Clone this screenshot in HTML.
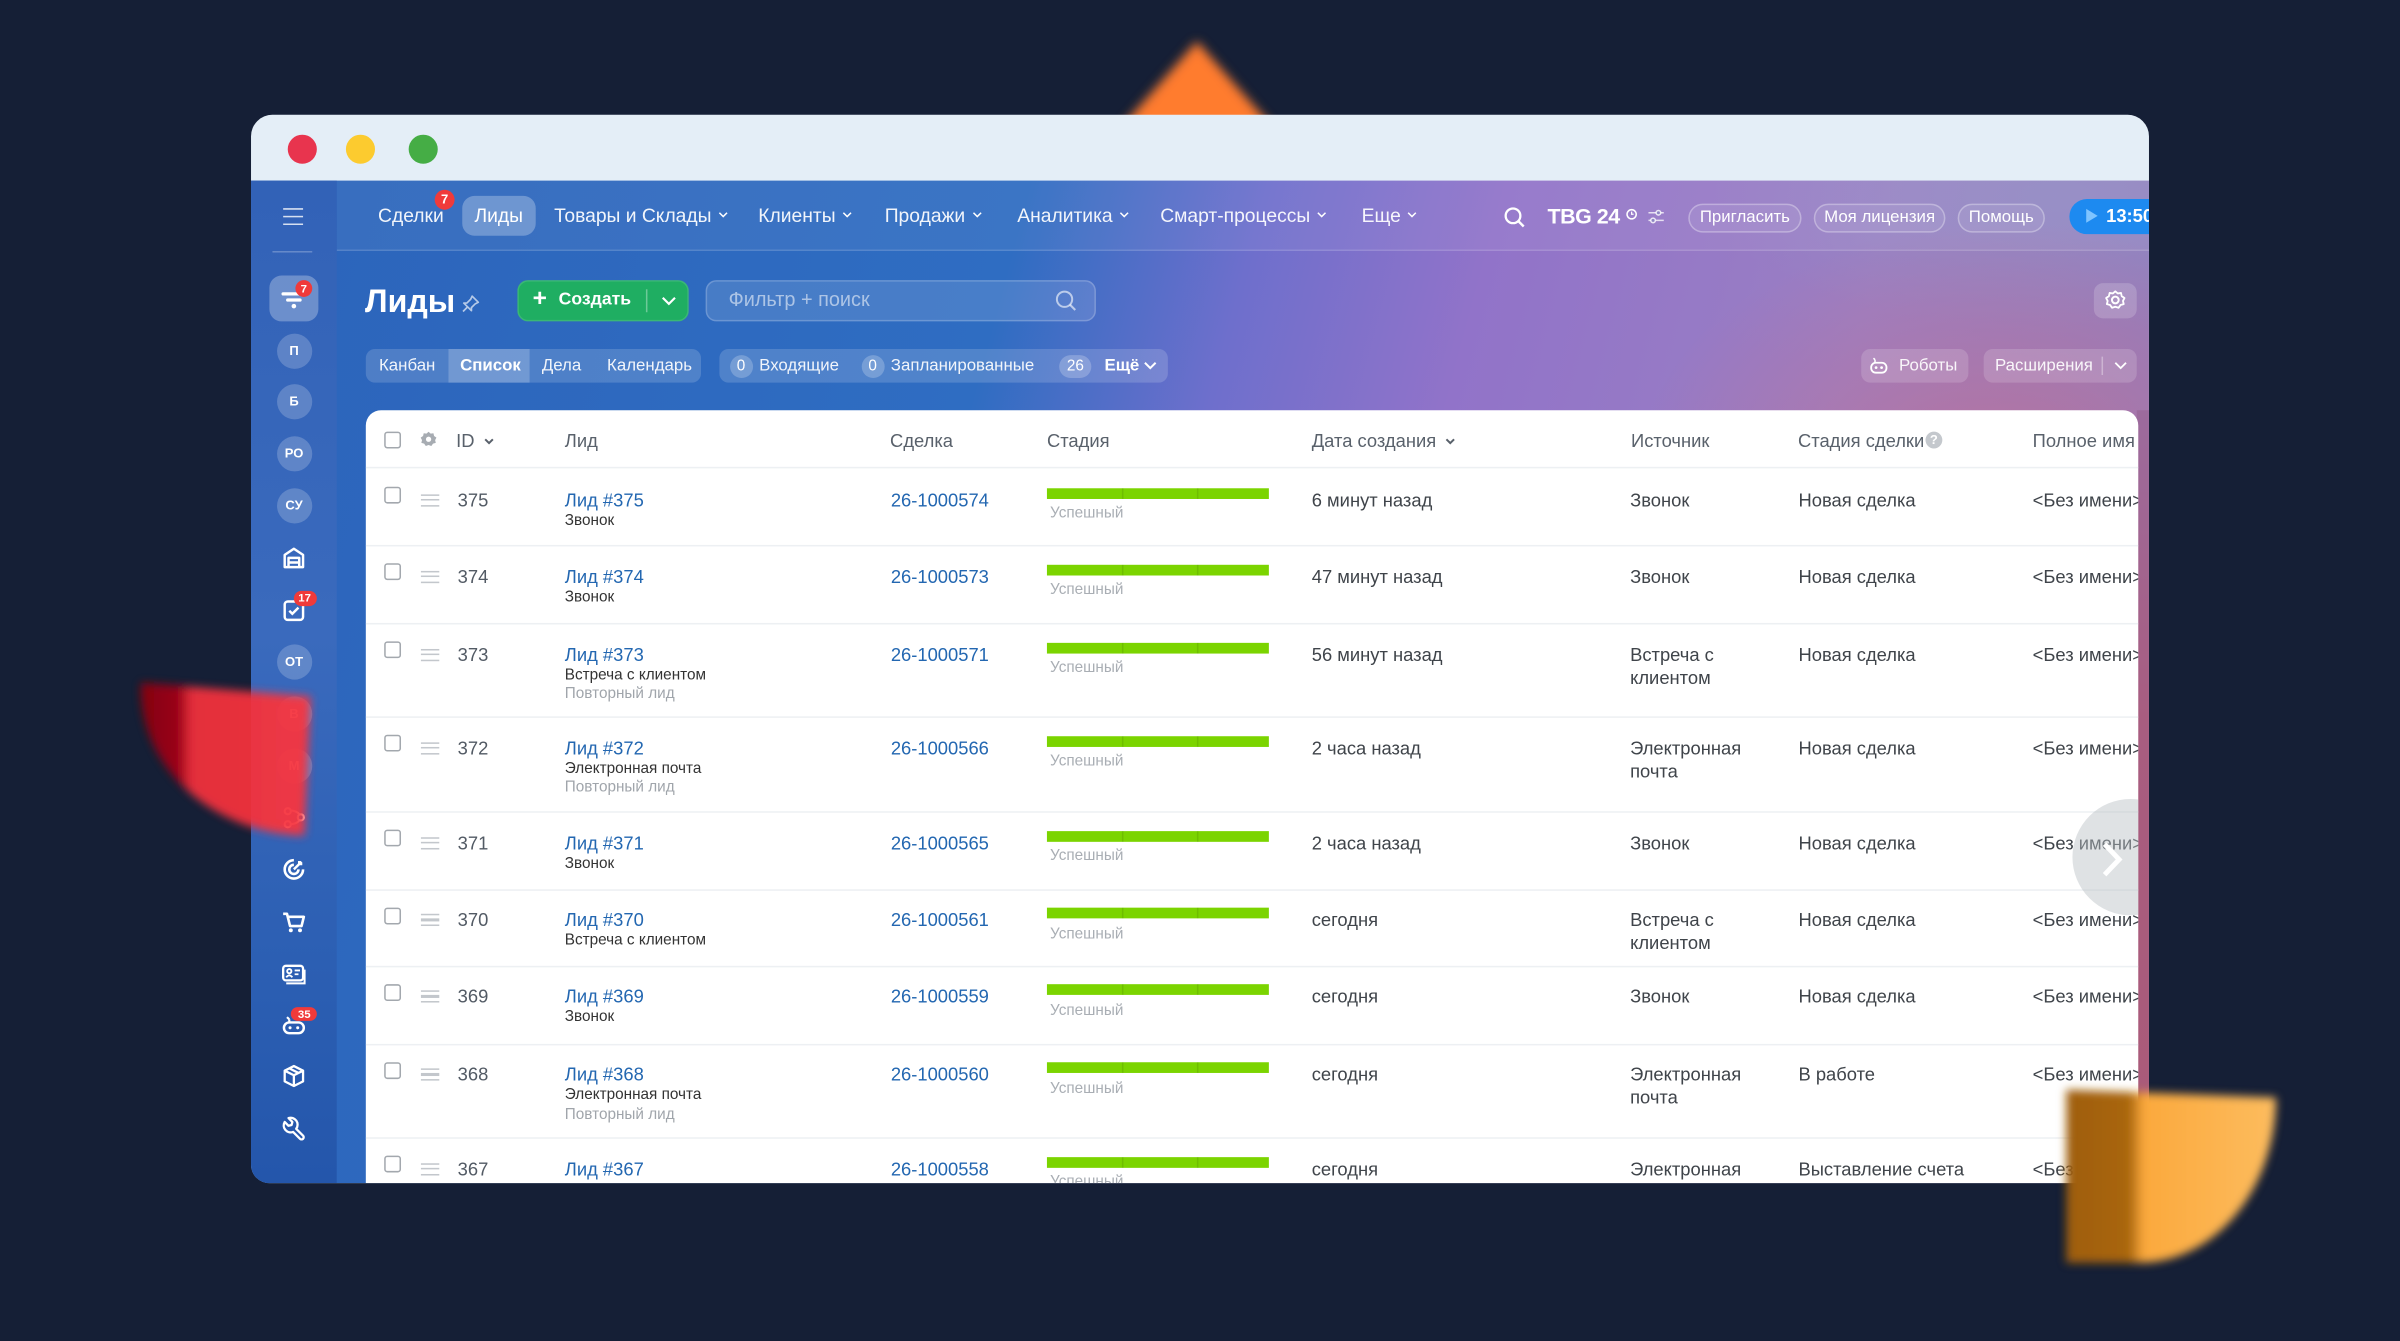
<!DOCTYPE html>
<html><head><meta charset="utf-8"><title>Лиды</title>
<style>
*{box-sizing:border-box}
html,body{margin:0;padding:0;width:2400px;height:1340px;overflow:hidden;background:#151f36}
#s{position:absolute;left:0;top:0;width:1568px;height:876px;transform:scale(1.530612);transform-origin:0 0;font-family:"Liberation Sans","DejaVu Sans",sans-serif;color:#fff}
.a{position:absolute;white-space:nowrap}
#win{position:absolute;left:164px;top:75px;width:1240px;height:698px;border-radius:14px 14px 0 12px;overflow:hidden;background:#e4eef7}
.dot{position:absolute;top:12.5px;width:19px;height:19px;border-radius:50%}
#app{position:absolute;left:0;top:43px;width:1240px;height:655px;
 background:
 radial-gradient(ellipse 330px 240px at 1140px 200px, rgba(210,105,130,.55), rgba(210,105,130,0) 72%),
 radial-gradient(ellipse 300px 120px at 1180px 10px, rgba(140,150,200,.45), rgba(140,150,200,0) 75%),
 linear-gradient(105deg,#2c64bb 0%,#2f6dc2 36%,#6e6fcc 47%,#9173c9 58%,#9a7fc3 76%,#8f7cb8 100%)}
.nv{position:absolute;top:58px;font-size:12.6px;line-height:16px;color:rgba(255,255,255,.93);white-space:nowrap}
.chev{display:inline-block;margin-left:4px;vertical-align:2px}
.pill{position:absolute;top:58px;height:19px;border:1px solid rgba(255,255,255,.3);background:rgba(255,255,255,.08);border-radius:10px;font-size:11px;line-height:17px;text-align:center;color:#fff;white-space:nowrap}
.sc{position:absolute;left:16.6px;width:23px;height:23px;border-radius:50%;background:rgba(255,255,255,.2);font-size:8.5px;font-weight:bold;line-height:23px;text-align:center;color:#fff}
.si{position:absolute;left:19px;width:18px;height:18px}
.bdg{position:absolute;background:#f03a3a;color:#fff;font-weight:bold;border-radius:7px;text-align:center;font-size:7.5px}
.grp{position:absolute;top:152.5px;height:22.5px;border-radius:6px;background:rgba(255,255,255,.16)}
.gt{position:absolute;top:0;font-size:11px;line-height:22.5px;color:rgba(255,255,255,.92);white-space:nowrap}
.cnt{position:absolute;top:4px;height:15px;border-radius:8px;background:rgba(255,255,255,.22);font-size:10px;line-height:15px;text-align:center;color:#fff}
#card{position:absolute;left:75px;top:193.3px;width:1157.5px;height:505px;background:#fff;border-radius:10px 10px 0 0;overflow:hidden}
.h{position:absolute;top:12.7px;font-size:12px;line-height:14px;color:#59616b;white-space:nowrap}
.sep{position:absolute;left:0;width:100%;height:1px;background:#edf0f3}
.r{position:absolute;left:0;width:100%;height:0}
.r>div{position:absolute;white-space:nowrap;font-size:12px;line-height:14px;color:#3f444a}
.r .cb{left:12px;top:-8.5px;width:11px;height:11px;border:1.3px solid #a3a8ae;border-radius:2px;background:#fff}
.r .hd{left:36px;top:-4px;width:12px;height:8px;border-top:1.5px solid #c3c7cc;border-bottom:1.5px solid #c3c7cc}
.r .hd:after{content:"";position:absolute;left:0;top:1.75px;width:12px;height:1.5px;background:#c3c7cc}
.r .id{left:60px;top:-7px;color:#525a64}
.r .ln{left:130px;top:-7px;color:#2367b1}
.r .s1{left:130px;top:8px;font-size:10px;line-height:12px;color:#333}
.r .s2{left:130px;top:20.5px;font-size:10px;line-height:12px;color:#a0a5ab}
.r .dl{left:343px;top:-7px;color:#2367b1}
.r .bar{left:445px;top:-8px;width:145px;height:7px;background:#7bd400}
.r .bar:before{content:"";position:absolute;left:48.5px;top:0;width:1px;height:7px;background:rgba(0,0,0,.1)}
.r .bar:after{content:"";position:absolute;left:97.5px;top:0;width:1px;height:7px;background:rgba(0,0,0,.1)}
.r .ok{left:447px;top:3.5px;font-size:10px;line-height:12px;color:#a9aeb4}
.r .dt{left:618px;top:-7px}
.r .src{left:826px;top:-7px;line-height:15px}
.r .st{left:936px;top:-7px}
.r .nm{left:1089px;top:-7px}
</style></head>
<body>
<div id="s">
<svg class="a" style="left:0;top:0" width="1568" height="876">
 <defs><filter id="bt" x="-30%" y="-30%" width="160%" height="160%"><feGaussianBlur stdDeviation="3.5"/></filter></defs>
 <polygon points="782,27 722,95 842,95" fill="#ff7b2d" filter="url(#bt)"/>
</svg>

<div id="win">
 <div class="dot" style="left:23.5px;background:#e8344e"></div>
 <div class="dot" style="left:61.5px;background:#fccb2f"></div>
 <div class="dot" style="left:102.5px;background:#45ad45"></div>

 <div id="app"></div>
 <div class="a" style="left:56px;top:43px;width:1184px;height:46px;background:rgba(255,255,255,.06);border-bottom:1px solid rgba(255,255,255,.14)"></div>
 <div class="a" style="left:1232px;top:193px;width:8px;height:505px;background:linear-gradient(180deg,#9c6b9d,#a85d80 40%,#aa5a78)"></div>

 <!-- sidebar -->
 <div class="a" style="left:0;top:43px;width:56px;height:655px;background:linear-gradient(180deg,#3262b7 0%,#3a6abd 45%,#2c5fb3 78%,#2456ab 100%)"></div>
 <div class="a" style="left:21px;top:61px;width:13px;height:10.5px;border-top:1.5px solid rgba(255,255,255,.8);border-bottom:1.5px solid rgba(255,255,255,.8)"></div>
 <div class="a" style="left:21px;top:65.5px;width:13px;height:1.5px;background:rgba(255,255,255,.8)"></div>
 <div class="a" style="left:14px;top:89px;width:26px;height:1px;background:rgba(255,255,255,.25)"></div>

 <div class="a" style="left:12.4px;top:104.7px;width:32px;height:30.5px;border-radius:8px;background:rgba(255,255,255,.28)"></div>
 <svg class="a" style="left:19px;top:111px" width="18" height="18" viewBox="0 0 18 18"><path d="M2 6H16M5 10H13" stroke="#fff" stroke-width="2.2" stroke-linecap="round"/><circle cx="9" cy="14" r="1.5" fill="#fff"/></svg>
 <div class="bdg" style="left:29px;top:107.5px;width:11px;height:11px;line-height:11px">7</div>

 <div class="sc" style="top:142.7px">П</div>
 <div class="sc" style="top:175.5px">Б</div>
 <div class="sc" style="top:210.3px">РО</div>
 <div class="sc" style="top:244px">СУ</div>
 <svg class="si" style="top:280px" viewBox="0 0 18 18"><path d="M3 7.5L9 3.5L15 7.5V15.5H3Z M5.5 15.5V9.5H12.5V15.5 M5.5 12.5H12.5" stroke="#fff" stroke-width="1.6" fill="none" stroke-linejoin="round"/></svg>
 <svg class="si" style="top:314px" viewBox="0 0 18 18"><rect x="3" y="4" width="12" height="12" rx="2" stroke="#fff" stroke-width="1.6" fill="none"/><path d="M6 10l2 2 4-4" stroke="#fff" stroke-width="1.6" fill="none"/></svg>
 <div class="bdg" style="left:27.5px;top:311.3px;width:15px;height:10.2px;line-height:10.2px">17</div>
 <div class="sc" style="top:346.3px">ОТ</div>
 <div class="sc" style="top:380.2px">В</div>
 <div class="sc" style="top:413.8px">М</div>
 <svg class="si" style="top:450px" viewBox="0 0 18 18"><circle cx="5" cy="5" r="2" stroke="#fff" stroke-width="1.4" fill="none"/><circle cx="13.5" cy="9" r="2" stroke="#fff" stroke-width="1.4" fill="none"/><circle cx="5" cy="13.5" r="2" stroke="#fff" stroke-width="1.4" fill="none"/><path d="M7.5 4.5Q11 5 12.5 7M7.5 13.5Q11 13 12.5 11" stroke="#fff" stroke-width="1.4" fill="none"/></svg>
 <svg class="si" style="top:483.5px" viewBox="0 0 18 18"><path d="M15 9A6 6 0 1 1 9 3" stroke="#fff" stroke-width="1.7" fill="none"/><path d="M12 9A3 3 0 1 1 9 6" stroke="#fff" stroke-width="1.7" fill="none"/><path d="M9 9L14 4M12.5 3.5V5.5H14.5" stroke="#fff" stroke-width="1.6" fill="none"/></svg>
 <svg class="si" style="top:518px" viewBox="0 0 18 18"><path d="M2 4H4.5L6.5 12H14L15.5 6H5" stroke="#fff" stroke-width="1.7" fill="none" stroke-linejoin="round"/><circle cx="7" cy="14.8" r="1.3" fill="#fff"/><circle cx="13" cy="14.8" r="1.3" fill="#fff"/></svg>
 <svg class="si" style="top:551.8px" viewBox="0 0 18 18"><rect x="2" y="4" width="13" height="9.5" rx="1.8" stroke="#fff" stroke-width="1.5" fill="none"/><path d="M4 15.5H16V6.5" stroke="#fff" stroke-width="1.3" fill="none"/><circle cx="6" cy="7.5" r="1.4" stroke="#fff" stroke-width="1.2" fill="none"/><path d="M4 11.5Q6 9 8 11.5M9.5 7H13M9.5 9.5H12" stroke="#fff" stroke-width="1.2" fill="none"/></svg>
 <svg class="si" style="top:585px" viewBox="0 0 18 18"><rect x="2.5" y="8" width="13" height="7" rx="3.5" stroke="#fff" stroke-width="1.6" fill="none"/><path d="M6 8V6M4.5 4.5L6 6" stroke="#fff" stroke-width="1.4" fill="none"/><circle cx="6.5" cy="11.5" r="1" fill="#fff"/><circle cx="11.5" cy="11.5" r="1" fill="#fff"/></svg>
 <div class="bdg" style="left:26.4px;top:582.7px;width:16.8px;height:9.6px;line-height:9.6px">35</div>
 <svg class="si" style="top:619px" viewBox="0 0 18 18"><path d="M9 2.5L15 5.5V12.5L9 15.5L3 12.5V5.5Z M3 5.5L9 8.5L15 5.5 M9 8.5V15.5 M6 4L12 7" stroke="#fff" stroke-width="1.5" fill="none" stroke-linejoin="round"/></svg>
 <svg class="si" style="top:653px" viewBox="0 0 18 18"><path d="M10.5 9.5L15 14A1.4 1.4 0 0 1 13 16L8.5 11.5A4.5 4.5 0 0 1 3 5L5.5 7.5L7.5 7L8 5L5.5 2.5A4.5 4.5 0 0 1 10.5 9.5Z" stroke="#fff" stroke-width="1.5" fill="none" stroke-linejoin="round"/></svg>

 <!-- top nav -->
 <div class="nv" style="left:83px">Сделки</div>
 <div class="bdg" style="left:120px;top:48.5px;width:13px;height:13px;line-height:13px;border-radius:50%;font-size:8.5px">7</div>
 <div class="a" style="left:138px;top:53px;width:48px;height:26px;border-radius:8px;background:rgba(255,255,255,.27)"></div>
 <div class="nv" style="left:146px;color:#fff">Лиды</div>
 <div class="nv" style="left:198px">Товары и Склады<svg class="chev" width="7" height="5" viewBox="0 0 7 5"><path d="M1 1l2.5 2.5L6 1" stroke="#fff" fill="none" stroke-width="1"/></svg></div>
 <div class="nv" style="left:331.4px">Клиенты<svg class="chev" width="7" height="5" viewBox="0 0 7 5"><path d="M1 1l2.5 2.5L6 1" stroke="#fff" fill="none" stroke-width="1"/></svg></div>
 <div class="nv" style="left:414px">Продажи<svg class="chev" width="7" height="5" viewBox="0 0 7 5"><path d="M1 1l2.5 2.5L6 1" stroke="#fff" fill="none" stroke-width="1"/></svg></div>
 <div class="nv" style="left:500.6px">Аналитика<svg class="chev" width="7" height="5" viewBox="0 0 7 5"><path d="M1 1l2.5 2.5L6 1" stroke="#fff" fill="none" stroke-width="1"/></svg></div>
 <div class="nv" style="left:594px">Смарт-процессы<svg class="chev" width="7" height="5" viewBox="0 0 7 5"><path d="M1 1l2.5 2.5L6 1" stroke="#fff" fill="none" stroke-width="1"/></svg></div>
 <div class="nv" style="left:725.6px">Еще<svg class="chev" width="7" height="5" viewBox="0 0 7 5"><path d="M1 1l2.5 2.5L6 1" stroke="#fff" fill="none" stroke-width="1"/></svg></div>

 <svg class="a" style="left:818px;top:60px" width="16" height="14" viewBox="0 0 16 14"><circle cx="6.5" cy="6" r="4.8" stroke="#fff" stroke-width="1.5" fill="none"/><path d="M10 9.5L13.5 13" stroke="#fff" stroke-width="1.6"/></svg>
 <div class="a" style="left:847px;top:57.5px;font-size:14px;line-height:17px;font-weight:bold;letter-spacing:-.3px">TBG 24</div>
 <svg class="a" style="left:897.5px;top:61px" width="8" height="8" viewBox="0 0 8 8"><circle cx="4" cy="4" r="3" stroke="#fff" stroke-width="1" fill="none"/><path d="M4 2.3V4H5.3" stroke="#fff" stroke-width=".8" fill="none"/></svg>
 <svg class="a" style="left:912px;top:61px" width="12" height="11" viewBox="0 0 12 11"><path d="M1 3H11M1 8H11" stroke="rgba(255,255,255,.75)" stroke-width="1"/><circle cx="7.5" cy="3" r="1.5" fill="#8d86c4" stroke="rgba(255,255,255,.8)" stroke-width="1"/><circle cx="4" cy="8" r="1.5" fill="#8d86c4" stroke="rgba(255,255,255,.8)" stroke-width="1"/></svg>
 <div class="pill" style="left:939px;width:74px">Пригласить</div>
 <div class="pill" style="left:1021px;width:86px">Моя лицензия</div>
 <div class="pill" style="left:1115px;width:57px">Помощь</div>
 <div class="a" style="left:1188px;top:54.5px;width:82px;height:23px;border-radius:12px;background:#1d8af0"></div>
 <svg class="a" style="left:1198px;top:61px" width="9" height="10" viewBox="0 0 9 10"><path d="M1 0.5L8.5 5L1 9.5Z" fill="#7fc4ff"/></svg>
 <div class="a" style="left:1212px;top:58px;font-size:12px;line-height:16px;font-weight:bold">13:50</div>

 <!-- page header -->
 <div class="a" style="left:74.5px;top:109.5px;font-size:21px;line-height:25px;font-weight:bold">Лиды</div>
 <svg class="a" style="left:137px;top:117px" width="13" height="13" viewBox="0 0 13 13"><path d="M7.5 1.5L11.5 5.5L9.5 6.5L7 9V11L2 6H4L6.5 3.5Z M4.5 8.5L1.5 11.5" stroke="rgba(255,255,255,.65)" stroke-width="1.1" fill="none" stroke-linejoin="round"/></svg>
 <div class="a" style="left:173.5px;top:107.5px;width:112.5px;height:27px;border-radius:7px;background:#1fae62;border:1px solid rgba(255,255,255,.12)"></div>
 <div class="a" style="left:184px;top:112px;font-size:16px;line-height:18px;font-weight:bold">+</div>
 <div class="a" style="left:201px;top:114px;font-size:11.5px;line-height:14px;font-weight:bold">Создать</div>
 <div class="a" style="left:257.5px;top:113.5px;width:1px;height:15px;background:rgba(255,255,255,.35)"></div>
 <svg class="a" style="left:267.5px;top:118px" width="10" height="7" viewBox="0 0 10 7"><path d="M1 1.5l4 4 4-4" stroke="#fff" fill="none" stroke-width="1.4"/></svg>
 <div class="a" style="left:296.7px;top:107.5px;width:255px;height:27px;border-radius:7px;background:rgba(255,255,255,.12);border:1px solid rgba(255,255,255,.2)"></div>
 <div class="a" style="left:312px;top:113px;font-size:13px;line-height:16px;color:rgba(255,255,255,.55)">Фильтр + поиск</div>
 <svg class="a" style="left:525px;top:113.5px" width="15" height="15" viewBox="0 0 15 15"><circle cx="6.5" cy="6.5" r="5" stroke="rgba(255,255,255,.6)" stroke-width="1.3" fill="none"/><path d="M10 10L13.5 13.5" stroke="rgba(255,255,255,.6)" stroke-width="1.4"/></svg>
 <div class="a" style="left:1203.5px;top:109.5px;width:28.5px;height:23px;border-radius:6px;background:rgba(255,255,255,.18)"></div>
 <svg class="a" style="left:1211px;top:114px" width="14" height="14" viewBox="0 0 14 14"><circle cx="7" cy="7" r="2.2" stroke="#fff" stroke-width="1.3" fill="none"/><path d="M7 1.3L8.6 2.7L10.7 2.4L11.2 4.5L13 5.7L12 7.6L12.5 9.7L10.4 10.3L9.1 12.1L7 11.4L4.9 12.1L3.6 10.3L1.5 9.7L2 7.6L1 5.7L2.8 4.5L3.3 2.4L5.4 2.7Z" stroke="#fff" stroke-width="1.2" fill="none" stroke-linejoin="round"/></svg>

 <!-- view row -->
 <div class="grp" style="left:75px;width:219px">
  <div class="a" style="left:53.5px;top:0;width:53px;height:22.5px;background:rgba(255,255,255,.2)"></div>
  <div class="gt" style="left:8.6px">Канбан</div>
  <div class="gt" style="left:61.6px;font-weight:bold;color:#fff">Список</div>
  <div class="gt" style="left:115px">Дела</div>
  <div class="gt" style="left:157.6px">Календарь</div>
 </div>
 <div class="grp" style="left:305.6px;width:293.7px">
  <div class="cnt" style="left:7px;width:15px">0</div>
  <div class="gt" style="left:26.4px">Входящие</div>
  <div class="cnt" style="left:93px;width:15px">0</div>
  <div class="gt" style="left:112.4px">Запланированные</div>
  <div class="cnt" style="left:222.5px;width:21px">26</div>
  <div class="gt" style="left:252px;font-weight:bold;color:#fff">Ещё</div>
  <svg class="a" style="left:277.5px;top:8px" width="9" height="6" viewBox="0 0 9 6"><path d="M1 1l3.5 3.5L8 1" stroke="#fff" fill="none" stroke-width="1.3"/></svg>
 </div>
 <div class="grp" style="left:1052px;width:69.5px">
  <svg class="a" style="left:4.5px;top:5.5px" width="13" height="12" viewBox="0 0 13 12"><rect x="1.5" y="4" width="10" height="6.5" rx="3" stroke="#fff" stroke-width="1.2" fill="none"/><path d="M4 4V2M3 1L4 2" stroke="#fff" stroke-width="1" fill="none"/><circle cx="4.7" cy="7.2" r=".9" fill="#fff"/><circle cx="8.3" cy="7.2" r=".9" fill="#fff"/></svg>
  <div class="gt" style="left:24.7px">Роботы</div>
 </div>
 <div class="grp" style="left:1131.8px;width:100px">
  <div class="gt" style="left:7.6px">Расширения</div>
  <div class="a" style="left:77px;top:5px;width:1px;height:12.5px;background:rgba(255,255,255,.35)"></div>
  <svg class="a" style="left:85px;top:8px" width="9" height="6" viewBox="0 0 9 6"><path d="M1 1l3.5 3.5L8 1" stroke="#fff" fill="none" stroke-width="1.2"/></svg>
 </div>

 <!-- card -->
 <div id="card">
  <div class="a" style="left:12.3px;top:14px;width:11px;height:11px;border:1.3px solid #a3a8ae;border-radius:2px"></div>
  <svg class="a" style="left:35px;top:13px" width="12" height="12" viewBox="0 0 14 14"><path d="M7 1.3L8.6 2.7L10.7 2.4L11.2 4.5L13 5.7L12 7.6L12.5 9.7L10.4 10.3L9.1 12.1L7 11.4L4.9 12.1L3.6 10.3L1.5 9.7L2 7.6L1 5.7L2.8 4.5L3.3 2.4L5.4 2.7Z" fill="#a7acb2"/><circle cx="7" cy="7" r="2" fill="#fff"/></svg>
  <div class="h" style="left:59px">ID</div>
  <svg class="a" style="left:76.5px;top:18px" width="7" height="5" viewBox="0 0 7 5"><path d="M1 1l2.5 2.5L6 1" stroke="#59616b" fill="none" stroke-width="1.3"/></svg>
  <div class="h" style="left:130px">Лид</div>
  <div class="h" style="left:342.5px">Сделка</div>
  <div class="h" style="left:445px">Стадия</div>
  <div class="h" style="left:618px">Дата создания</div>
  <svg class="a" style="left:705px;top:18px" width="7" height="5" viewBox="0 0 7 5"><path d="M1 1l2.5 2.5L6 1" stroke="#59616b" fill="none" stroke-width="1.3"/></svg>
  <div class="h" style="left:826.6px">Источник</div>
  <div class="h" style="left:935.7px">Стадия сделки</div>
  <div class="a" style="left:1019px;top:14px;width:11px;height:11px;border-radius:50%;background:#c4c8cd;color:#fff;font-size:8.5px;line-height:11px;text-align:center;font-weight:bold">?</div>
  <div class="h" style="left:1089px">Полное имя</div>
  <div class="sep" style="top:37px"></div>

  <div class="r" style="top:58.5px"><div class="cb"></div><div class="hd"></div><div class="id">375</div><div class="ln">Лид #375</div><div class="s1">Звонок</div><div class="dl">26-1000574</div><div class="bar"></div><div class="ok">Успешный</div><div class="dt">6 минут назад</div><div class="src">Звонок</div><div class="st">Новая сделка</div><div class="nm">&lt;Без имени&gt;</div></div>
  <div class="sep" style="top:88px"></div>
  <div class="r" style="top:108.5px"><div class="cb"></div><div class="hd"></div><div class="id">374</div><div class="ln">Лид #374</div><div class="s1">Звонок</div><div class="dl">26-1000573</div><div class="bar"></div><div class="ok">Успешный</div><div class="dt">47 минут назад</div><div class="src">Звонок</div><div class="st">Новая сделка</div><div class="nm">&lt;Без имени&gt;</div></div>
  <div class="sep" style="top:138.5px"></div>
  <div class="r" style="top:159.6px"><div class="cb"></div><div class="hd"></div><div class="id">373</div><div class="ln">Лид #373</div><div class="s1">Встреча с клиентом</div><div class="s2">Повторный лид</div><div class="dl">26-1000571</div><div class="bar"></div><div class="ok">Успешный</div><div class="dt">56 минут назад</div><div class="src">Встреча с<br>клиентом</div><div class="st">Новая сделка</div><div class="nm">&lt;Без имени&gt;</div></div>
  <div class="sep" style="top:200.2px"></div>
  <div class="r" style="top:220.6px"><div class="cb"></div><div class="hd"></div><div class="id">372</div><div class="ln">Лид #372</div><div class="s1">Электронная почта</div><div class="s2">Повторный лид</div><div class="dl">26-1000566</div><div class="bar"></div><div class="ok">Успешный</div><div class="dt">2 часа назад</div><div class="src">Электронная<br>почта</div><div class="st">Новая сделка</div><div class="nm">&lt;Без имени&gt;</div></div>
  <div class="sep" style="top:261.5px"></div>
  <div class="r" style="top:282.7px"><div class="cb"></div><div class="hd"></div><div class="id">371</div><div class="ln">Лид #371</div><div class="s1">Звонок</div><div class="dl">26-1000565</div><div class="bar"></div><div class="ok">Успешный</div><div class="dt">2 часа назад</div><div class="src">Звонок</div><div class="st">Новая сделка</div><div class="nm">&lt;Без имени&gt;</div></div>
  <div class="sep" style="top:312.5px"></div>
  <div class="r" style="top:333px"><div class="cb"></div><div class="hd"></div><div class="id">370</div><div class="ln">Лид #370</div><div class="s1">Встреча с клиентом</div><div class="dl">26-1000561</div><div class="bar"></div><div class="ok">Успешный</div><div class="dt">сегодня</div><div class="src">Встреча с<br>клиентом</div><div class="st">Новая сделка</div><div class="nm">&lt;Без имени&gt;</div></div>
  <div class="sep" style="top:363px"></div>
  <div class="r" style="top:383.1px"><div class="cb"></div><div class="hd"></div><div class="id">369</div><div class="ln">Лид #369</div><div class="s1">Звонок</div><div class="dl">26-1000559</div><div class="bar"></div><div class="ok">Успешный</div><div class="dt">сегодня</div><div class="src">Звонок</div><div class="st">Новая сделка</div><div class="nm">&lt;Без имени&gt;</div></div>
  <div class="sep" style="top:414px"></div>
  <div class="r" style="top:434px"><div class="cb"></div><div class="hd"></div><div class="id">368</div><div class="ln">Лид #368</div><div class="s1">Электронная почта</div><div class="s2">Повторный лид</div><div class="dl">26-1000560</div><div class="bar"></div><div class="ok">Успешный</div><div class="dt">сегодня</div><div class="src">Электронная<br>почта</div><div class="st">В работе</div><div class="nm">&lt;Без имени&gt;</div></div>
  <div class="sep" style="top:475px"></div>
  <div class="r" style="top:495.5px"><div class="cb"></div><div class="hd"></div><div class="id">367</div><div class="ln">Лид #367</div><div class="dl">26-1000558</div><div class="bar"></div><div class="ok">Успешный</div><div class="dt">сегодня</div><div class="src">Электронная</div><div class="st">Выставление счета</div><div class="nm">&lt;Без имени&gt;</div></div>

  <div class="a" style="left:1115px;top:254px;width:76px;height:76px;border-radius:50%;background:rgba(185,190,196,.45)"></div>
  <svg class="a" style="left:1133px;top:281px" width="16" height="25" viewBox="0 0 16 25"><path d="M3 2.5L12.5 12.5L3 22.5" stroke="#fff" stroke-width="3.2" fill="none"/></svg>
 </div>
</div>

<svg class="a" style="left:0;top:0" width="1568" height="876">
 <defs>
  <filter id="bl" x="-30%" y="-30%" width="160%" height="160%"><feGaussianBlur stdDeviation="3"/></filter>
  <linearGradient id="rg" x1="0" y1="0" x2="1" y2="0">
   <stop offset="0" stop-color="#8a000f"/><stop offset="0.22" stop-color="#a00016"/><stop offset="0.3" stop-color="#f0303d"/><stop offset="1" stop-color="#f7363f"/>
  </linearGradient>
  <linearGradient id="og" x1="0" y1="0" x2="1" y2="0">
   <stop offset="0" stop-color="#9f5e08"/><stop offset="0.3" stop-color="#a9660c"/><stop offset="0.37" stop-color="#fba93d"/><stop offset="1" stop-color="#fdbc5e"/>
  </linearGradient>
 </defs>
 <path d="M92 446 L203 455 L199 546 A110 96 0 0 1 92 446 Z" fill="url(#rg)" opacity="0.95" filter="url(#bl)"/>
 <path d="M1350 712 L1487 717 A89 108 0 0 1 1398 825 L1350 825 Z" fill="url(#og)" filter="url(#bl)"/>
</svg>
</div>
</body></html>
